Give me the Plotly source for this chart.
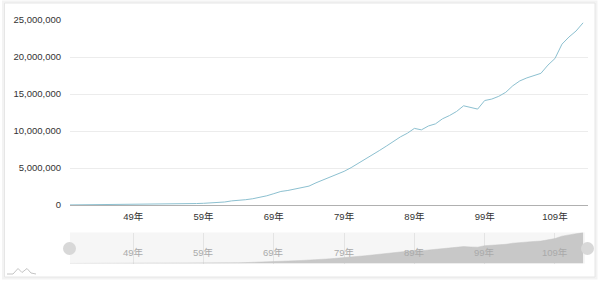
import plotly.graph_objects as go

# ---- data: Taiwan nominal GDP (million NTD), ROC years 40-113 ----
years = list(range(40, 114))
gdp = [
    12347, 17247, 22957, 25111, 29913, 34055, 39679, 44143, 50735, 62566,
    70040, 76953, 87207, 101390, 112944, 126230, 146111, 170197, 197924, 227837,
    264283, 316178, 405823, 555280, 596208, 717961, 846045, 1022318, 1245018, 1534081,
    1830046, 1964283, 2187393, 2425946, 2553002, 3000000, 3400000, 3700000, 4100000, 4550000,
    5050000, 5600000, 6150000, 6750000, 7350000, 7950000, 8600000, 9200000, 9700000, 10351260,
    10158209, 10680883, 10965866, 11649645, 12092254, 12640803, 13407062, 13150950, 12961656, 14119213,
    14312200, 14686917, 15230739, 16111867, 16770671, 17176300, 17501181, 17793139, 18908632, 19798597,
    21739130, 22710007, 23512000, 24620000,
]
tick_years = [49, 59, 69, 79, 89, 99, 109]
tick_labels = [f"{y}年" for y in tick_years]
y_ticks = [0, 5000000, 10000000, 15000000, 20000000, 25000000]

# ---- geometry helpers (pixels -> paper) ----
FW, FH = 600, 281
L, R, T, B = 70, 12, 20, 17
PW, PH = FW - L - R, FH - T - B


def px_x(px):
    return (px - L) / PW


def px_y(py):
    return (FH - B - py) / PH


FONT = "Liberation Sans, Arial, Noto Sans CJK TC, sans-serif"
FS = 9.5

fig = go.Figure()
fig.add_trace(go.Scatter(
    x=years, y=gdp, mode="lines",
    line=dict(color="#8cc0d0", width=1),
    xaxis="x", yaxis="y", showlegend=False,
))
fig.add_trace(go.Scatter(
    x=years, y=gdp, mode="lines", fill="tozeroy",
    line=dict(color="#c4c4c4", width=0.5),
    fillcolor="#c8c8c8",
    xaxis="x2", yaxis="y2", showlegend=False, hoverinfo="skip",
))

xr = [40, 113.7]
shapes = [
    # card shadow + border
    dict(type="rect", xref="paper", yref="paper",
         x0=px_x(3.5), x1=px_x(596), y0=px_y(278), y1=px_y(2),
         line=dict(color="#f3f3f3", width=3), fillcolor="rgba(0,0,0,0)", layer="below"),
    dict(type="rect", xref="paper", yref="paper",
         x0=px_x(4.5), x1=px_x(595), y0=px_y(277), y1=px_y(3),
         line=dict(color="#e6e6e6", width=1), fillcolor="white", layer="below"),
    # slider background
    dict(type="rect", xref="paper", yref="paper",
         x0=px_x(70), x1=px_x(585), y0=px_y(263.5), y1=px_y(232.5),
         line=dict(width=0), fillcolor="#f6f6f6", layer="below"),
    # handles
    dict(type="circle", xref="paper", yref="paper", xsizemode="pixel", ysizemode="pixel",
         xanchor=px_x(69.5), yanchor=px_y(248.5), x0=-6.5, x1=6.5, y0=-6.5, y1=6.5,
         fillcolor="#d8d8d8", line=dict(width=0), layer="above"),
    dict(type="circle", xref="paper", yref="paper", xsizemode="pixel", ysizemode="pixel",
         xanchor=px_x(587.5), yanchor=px_y(248.5), x0=-6.5, x1=6.5, y0=-6.5, y1=6.5,
         fillcolor="#d8d8d8", line=dict(width=0), layer="above"),
    # small logo
    dict(type="path", xref="paper", yref="paper",
         path="M {},{} L {},{} L {},{} L {},{} L {},{} L {},{} L {},{}".format(
             px_x(7), px_y(274), px_x(13), px_y(274), px_x(18), px_y(268.5),
             px_x(22), px_y(272.5), px_x(27), px_y(268.5), px_x(31), px_y(273),
             px_x(36), px_y(274)),
         line=dict(color="#c4c4c4", width=1), layer="above"),
]

annotations = [
    dict(x=ty, y=px_y(252.5), xref="x2", yref="paper", text=tl, showarrow=False,
         font=dict(family=FONT, size=FS, color="#aaaaaa"), xanchor="center", yanchor="middle")
    for ty, tl in zip(tick_years, tick_labels)
]

fig.update_layout(
    width=FW, height=FH,
    margin=dict(l=L, r=R, t=T, b=B, autoexpand=False),
    paper_bgcolor="white", plot_bgcolor="rgba(0,0,0,0)",
    font=dict(family=FONT, size=FS, color="#333333"),
    shapes=shapes, annotations=annotations,
    xaxis=dict(
        domain=[0, 1], range=xr, anchor="y", automargin=False,
        tickvals=tick_years, ticktext=tick_labels,
        showgrid=False, zeroline=False, showline=True, linecolor="#b0b0b0", linewidth=1,
        ticks="outside", ticklen=3, tickcolor="rgba(0,0,0,0)",
        tickfont=dict(size=FS, color="#333333"),
    ),
    yaxis=dict(
        domain=[px_y(205), 1], range=[0, 25000000], anchor="x", automargin=False,
        tickvals=y_ticks, tickformat=",d",
        showgrid=True, gridcolor="#ececec", gridwidth=1, zeroline=False, showline=False,
        ticks="outside", ticklen=6, tickcolor="rgba(0,0,0,0)",
        tickfont=dict(size=FS, color="#333333"),
    ),
    xaxis2=dict(
        domain=[0, 1], range=xr, anchor="y2", automargin=False,
        tickvals=tick_years, showticklabels=False,
        showgrid=True, gridcolor="#e4e4e4", zeroline=False, showline=False,
    ),
    yaxis2=dict(
        domain=[px_y(263.5), px_y(232.5)], range=[0, 24620000], anchor="x2", automargin=False,
        showgrid=False, zeroline=False, showticklabels=False, showline=False,
    ),
    hovermode=False,
)

fig.write_html("out.html")
